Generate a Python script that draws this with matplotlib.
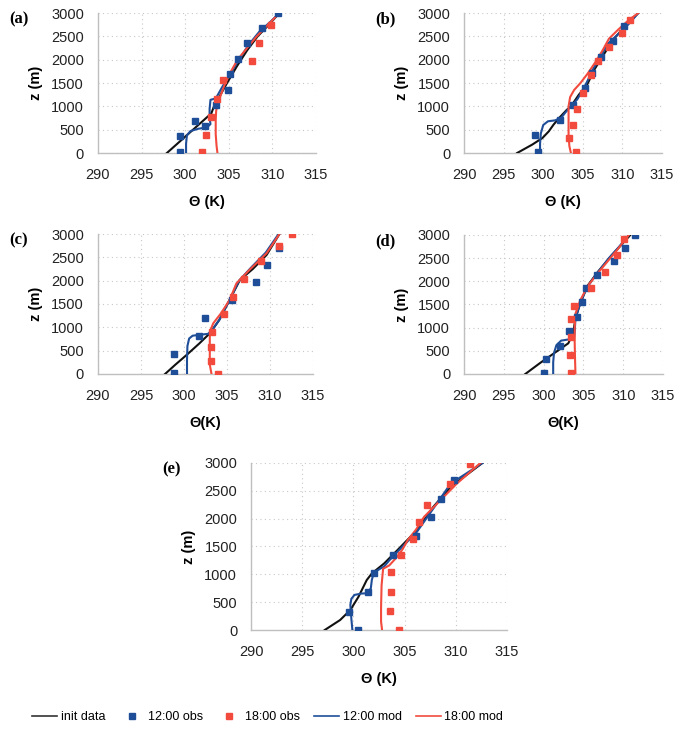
import matplotlib
matplotlib.use("Agg")
import matplotlib.pyplot as plt
from matplotlib.lines import Line2D

plt.rcParams['font.family'] = ['Liberation Sans', 'DejaVu Sans']

# ---- panel (a) ----
init_a_T = [297.9, 299.1, 300.3, 301.5, 302.4, 303.0, 303.3, 303.9, 304.8, 305.9, 307.1, 308.3, 309.6, 310.8]
init_a_z = [0, 200, 400, 600, 750, 850, 1000, 1200, 1500, 1850, 2200, 2500, 2750, 3000]
mod12_a_T = [300.1, 300.1, 300.2, 300.6, 301.5, 302.5, 302.9, 302.8, 302.8, 302.9, 303.3, 303.6, 304.2, 305.0, 306.0, 307.2, 308.5, 309.7, 310.8]
mod12_a_z = [0, 200, 380, 470, 520, 550, 620, 750, 950, 1140, 1160, 1200, 1400, 1650, 1950, 2300, 2600, 2800, 3000]
mod18_a_T = [303.7, 303.6, 303.5, 303.5, 303.55, 303.7, 304.0, 304.5, 305.1, 306.0, 307.1, 308.2, 309.5, 310.8]
mod18_a_z = [0, 150, 400, 700, 900, 1050, 1200, 1450, 1700, 2000, 2250, 2500, 2750, 3000]
obs12_a_T = [299.4, 299.4, 301.1, 302.3, 303.5, 304.9, 305.1, 306.0, 307.1, 308.8, 310.6]
obs12_a_z = [30, 357, 686, 586, 1029, 1357, 1700, 2014, 2357, 2679, 3000]
obs18_a_T = [301.9, 302.4, 303.0, 303.7, 304.3, 307.7, 308.5, 309.8]
obs18_a_z = [20, 393, 771, 1157, 1557, 1964, 2357, 2743]

# ---- panel (b) ----
init_b_T = [296.7, 298.6, 299.9, 300.7, 301.3, 302.0, 303.0, 303.5, 304.5, 305.5, 306.5, 307.6, 308.8, 310.5, 312.0]
init_b_z = [0, 179, 321, 464, 607, 750, 929, 1000, 1250, 1450, 1800, 2100, 2420, 2750, 3000]
mod12_b_T = [299.6, 299.6, 299.7, 300.0, 300.6, 301.5, 302.3, 302.8, 303.5, 304.3, 305.0, 305.6, 306.3, 307.2, 308.2, 309.8, 311.0, 312.0]
mod12_b_z = [0, 200, 420, 600, 680, 700, 760, 870, 1000, 1150, 1350, 1550, 1800, 2050, 2350, 2600, 2800, 3000]
mod18_b_T = [303.5, 303.3, 303.2, 303.2, 303.2, 303.4, 303.9, 304.7, 305.6, 306.6, 307.5, 308.3, 309.5, 310.8, 312.0]
mod18_b_z = [0, 150, 400, 700, 1000, 1200, 1350, 1500, 1700, 1950, 2200, 2450, 2650, 2850, 3000]
obs12_b_T = [299.3, 299.0, 302.1, 303.8, 305.3, 306.2, 307.3, 308.8, 310.2]
obs12_b_z = [20, 393, 714, 1029, 1393, 1714, 2057, 2400, 2729]
obs18_b_T = [304.1, 303.3, 303.7, 304.3, 305.0, 306.0, 306.9, 308.3, 310.0, 310.9]
obs18_b_z = [20, 321, 607, 943, 1286, 1679, 1964, 2271, 2571, 2857]

# ---- panel (c) ----
init_c_T = [297.8, 299.0, 300.3, 301.8, 303.0, 303.5, 304.1, 305.3, 306.5, 308.0, 309.6, 311.1]
init_c_z = [0, 200, 407, 657, 871, 1000, 1157, 1586, 2014, 2250, 2550, 3000]
mod12_c_T = [300.35, 300.35, 300.4, 300.6, 301.0, 301.8, 302.8, 303.3, 304.1, 305.3, 306.4, 307.8, 309.5, 311.0]
mod12_c_z = [0, 300, 600, 760, 820, 840, 860, 950, 1157, 1586, 2000, 2280, 2600, 3000]
mod18_c_T = [303.2, 303.0, 303.0, 303.0, 303.1, 303.4, 304.3, 305.3, 306.1, 307.6, 309.6, 311.1]
mod18_c_z = [0, 200, 500, 800, 950, 1086, 1300, 1586, 1943, 2229, 2586, 3000]
obs12_c_T = [298.8, 298.8, 301.7, 302.5, 305.6, 308.4, 309.6, 311.1]
obs12_c_z = [14, 421, 821, 1207, 1586, 1964, 2336, 2700]
obs18_c_T = [304.0, 303.1, 303.1, 303.3, 304.7, 305.7, 307.0, 308.9, 311.1, 312.6]
obs18_c_z = [0, 279, 571, 893, 1286, 1650, 2036, 2414, 2750, 3000]

# ---- panel (d) ----
init_d_T = [297.7, 299.5, 301.6, 303.1, 303.7, 304.0, 304.6, 305.5, 306.8, 308.5, 310.9]
init_d_z = [0, 230, 482, 662, 878, 1200, 1525, 1900, 2200, 2550, 3000]
mod12_d_T = [301.2, 301.2, 301.3, 301.6, 302.2, 303.3, 303.8, 303.9, 304.0, 304.6, 305.4, 306.6, 308.2, 309.5, 310.7]
mod12_d_z = [0, 250, 450, 620, 720, 750, 760, 900, 1200, 1525, 1850, 2150, 2500, 2750, 3000]
mod18_d_T = [304.0, 303.95, 303.9, 303.9, 304.0, 304.6, 305.6, 307.1, 309.2, 310.7]
mod18_d_z = [0, 300, 700, 1000, 1300, 1590, 1914, 2237, 2669, 3000]
obs12_d_T = [300.1, 300.3, 302.1, 303.2, 304.2, 304.8, 305.3, 306.7, 308.9, 310.2, 311.5]
obs12_d_z = [14, 317, 604, 921, 1237, 1561, 1849, 2137, 2446, 2727, 3000]
obs18_d_T = [303.4, 303.3, 303.4, 303.4, 303.8, 305.9, 307.7, 309.2, 310.1]
obs18_d_z = [14, 403, 791, 1180, 1475, 1849, 2209, 2576, 2914]

# ---- panel (e) ----
init_e_T = [297.2, 298.7, 299.7, 300.5, 301.3, 301.8, 303.0, 304.3, 306.2, 307.8, 309.5, 312.6]
init_e_z = [0, 179, 359, 598, 897, 1016, 1195, 1435, 1793, 2211, 2570, 3000]
mod12_e_T = [299.9, 299.8, 299.7, 299.8, 300.1, 300.8, 301.4, 301.7, 301.8, 302.0, 302.6, 303.0, 303.5, 304.3, 306.2, 307.8, 309.5, 312.6]
mod12_e_z = [0, 200, 450, 560, 630, 655, 660, 750, 900, 1030, 1100, 1140, 1250, 1405, 1763, 2181, 2630, 3000]
mod18_e_T = [302.8, 302.7, 302.7, 302.75, 302.9, 303.5, 304.2, 304.8, 305.3, 306.1, 306.9, 307.8, 308.6, 310.1, 312.4]
mod18_e_z = [0, 150, 400, 800, 1100, 1160, 1300, 1450, 1613, 1800, 2032, 2200, 2350, 2630, 3000]
obs12_e_T = [300.4, 299.6, 301.4, 302.0, 303.9, 306.1, 307.6, 308.6, 309.8]
obs12_e_z = [0, 329, 676, 1016, 1355, 1691, 2032, 2355, 2689]
obs18_e_T = [304.5, 303.6, 303.7, 303.7, 304.6, 305.8, 306.4, 307.2, 309.4, 311.4]
obs18_e_z = [0, 347, 687, 1040, 1339, 1626, 1937, 2253, 2630, 2988]

panels = [
    ('(a)', 'Θ (K)', [0.1439, 0.7901, 0.3201, 0.192],
     init_a_T, init_a_z, mod12_a_T, mod12_a_z, mod18_a_T, mod18_a_z, obs12_a_T, obs12_a_z, obs18_a_T, obs18_a_z),
    ('(b)', 'Θ (K)', [0.6814, 0.7901, 0.2907, 0.192],
     init_b_T, init_b_z, mod12_b_T, mod12_b_z, mod18_b_T, mod18_b_z, obs12_b_T, obs12_b_z, obs18_b_T, obs18_b_z),
    ('(c)', 'Θ(K)', [0.1439, 0.4870, 0.3157, 0.192],
     init_c_T, init_c_z, mod12_c_T, mod12_c_z, mod18_c_T, mod18_c_z, obs12_c_T, obs12_c_z, obs18_c_T, obs18_c_z),
    ('(d)', 'Θ(K)', [0.6814, 0.4870, 0.2922, 0.1907],
     init_d_T, init_d_z, mod12_d_T, mod12_d_z, mod18_d_T, mod18_d_z, obs12_d_T, obs12_d_z, obs18_d_T, obs18_d_z),
    ('(e)', 'Θ (K)', [0.3686, 0.1358, 0.3759, 0.2291],
     init_e_T, init_e_z, mod12_e_T, mod12_e_z, mod18_e_T, mod18_e_z, obs12_e_T, obs12_e_z, obs18_e_T, obs18_e_z),
]

blue = '#1F4E99'
red = '#F24B3E'
black = '#111111'
grid_col = '#C8C8C8'

fig = plt.figure(figsize=(6.81, 7.29), dpi=100)

for (tag, xlab, rect, iT, iz, bT, bz, rT, rz, oT, oz, pT, pz) in panels:
    ax = fig.add_axes(rect)
    ax.plot(iT, iz, color=black, lw=1.5, zorder=3)
    ax.plot(bT, bz, color=blue, lw=1.5, zorder=4)
    ax.plot(rT, rz, color=red, lw=1.5, zorder=5)
    ax.plot(oT, oz, 's', color=blue, ms=5, zorder=6)
    ax.plot(pT, pz, 's', color=red, ms=5, zorder=6)
    ax.set_xlim(290, 315)
    ax.set_ylim(0, 3000)
    ax.set_xticks(range(290, 316, 5))
    ax.set_yticks(range(0, 3001, 500))
    ax.grid(True, linestyle=(0, (1, 3)), color=grid_col, lw=0.8)
    ax.set_axisbelow(True)
    for s in ['top', 'right']:
        ax.spines[s].set_visible(False)
    for s in ['left', 'bottom']:
        ax.spines[s].set_color('#BFBFBF')
        ax.spines[s].set_linewidth(1.0)
    ax.tick_params(length=0, labelsize=10.5, colors='#222222')
    ax.tick_params(axis='x', pad=11)
    ax.tick_params(axis='y', pad=10)
    ax.set_xlabel(xlab, fontsize=10.5, fontweight='bold', labelpad=9)
    ax.set_ylabel('z (m)', fontsize=10.5, fontweight='bold', labelpad=6)
    x0 = rect[0] - 0.13
    fig.text(x0, rect[1] + rect[3] + 0.002, tag, fontsize=12, fontweight='bold',
             family='Liberation Serif', va='top', ha='left')

handles = [
    Line2D([], [], color='#333333', lw=1.2),
    Line2D([], [], color=blue, marker='s', ms=4, ls='none'),
    Line2D([], [], color=red, marker='s', ms=4, ls='none'),
    Line2D([], [], color=blue, lw=1.2),
    Line2D([], [], color=red, lw=1.2),
]
labels = ['init data', '12:00 obs', '18:00 obs', '12:00 mod', '18:00 mod']
fig.legend(handles, labels, loc='center', bbox_to_anchor=(0.393, 0.016), ncol=5,
           frameon=False, fontsize=9, handlelength=2.0, handletextpad=0.3,
           columnspacing=1.1, borderpad=0)

fig.savefig('out.png', dpi=100)
